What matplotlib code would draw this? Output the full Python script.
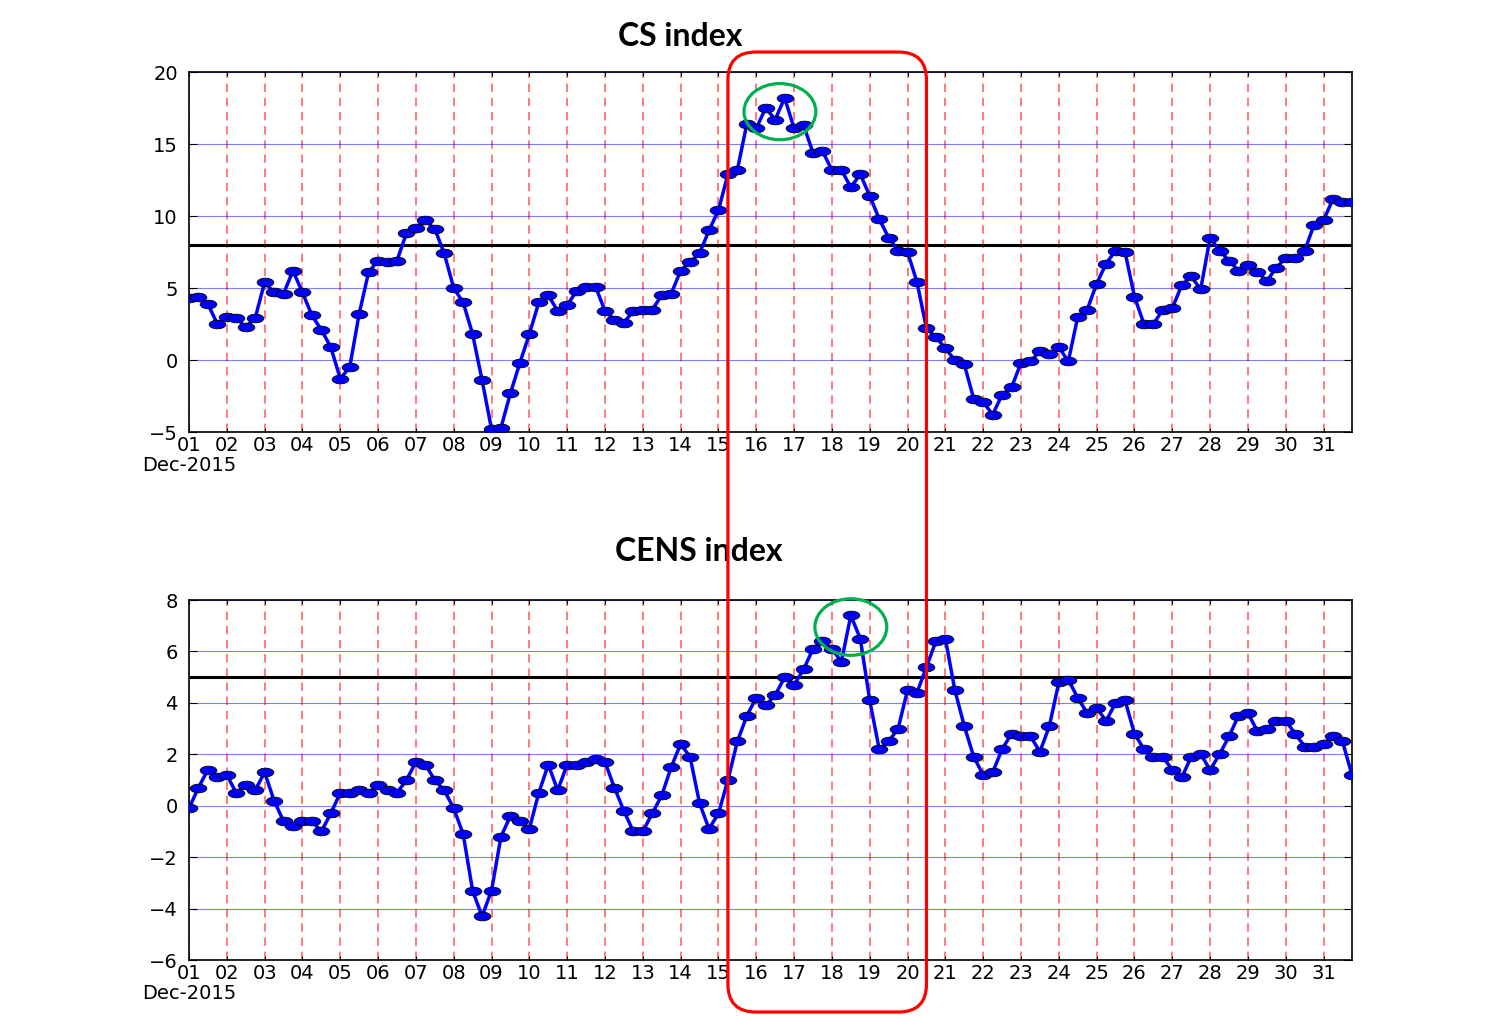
#!/usr/bin/env python3
"""
CS / CENS index time series, Dec 2015 (6-hourly), with highlighted event window
"""

import matplotlib
matplotlib.use('Agg')
import matplotlib.pyplot as plt
import matplotlib.dates as mdates
import pandas as pd
from matplotlib.path import Path
from matplotlib.transforms import Affine2D, IdentityTransform, blended_transform_factory
from matplotlib.patches import Ellipse, FancyBboxPatch

# 6-hourly samples, 1 Dec 00:00 -> 31 Dec 18:00
start_time = '2015-12-01 00:00'
n_points = 124

cs_values = [4.3, 4.4, 3.9, 2.5, 3.0, 2.9, 2.3, 2.9,
             5.4, 4.7, 4.6, 6.2, 4.7, 3.1, 2.1, 0.9,
             -1.3, -0.5, 3.2, 6.1, 6.9, 6.8, 6.9, 8.8,
             9.2, 9.7, 9.1, 7.4, 5.0, 4.0, 1.8, -1.4,
             -4.8, -4.7, -2.3, -0.2, 1.8, 4.0, 4.5, 3.4,
             3.8, 4.8, 5.1, 5.1, 3.4, 2.8, 2.6, 3.4,
             3.5, 3.5, 4.5, 4.6, 6.2, 6.8, 7.4, 9.0,
             10.4, 12.9, 13.2, 16.4, 16.1, 17.5, 16.7, 18.2,
             16.1, 16.3, 14.4, 14.5, 13.2, 13.2, 12.0, 12.9,
             11.4, 9.8, 8.5, 7.6, 7.5, 5.4, 2.2, 1.6,
             0.8, 0.0, -0.3, -2.7, -2.9, -3.8, -2.4, -1.9,
             -0.2, -0.1, 0.6, 0.4, 0.9, -0.1, 3.0, 3.5,
             5.3, 6.7, 7.6, 7.5, 4.4, 2.5, 2.5, 3.5,
             3.6, 5.2, 5.8, 4.9, 8.5, 7.6, 6.9, 6.2,
             6.6, 6.1, 5.5, 6.4, 7.1, 7.1, 7.6, 9.4,
             9.7, 11.2, 11.0, 11.0]

cens_values = [-0.1, 0.7, 1.4, 1.1, 1.2, 0.5, 0.8, 0.6,
               1.3, 0.2, -0.6, -0.8, -0.6, -0.6, -1.0, -0.3,
               0.5, 0.5, 0.6, 0.5, 0.8, 0.6, 0.5, 1.0,
               1.7, 1.6, 1.0, 0.6, -0.1, -1.1, -3.3, -4.3,
               -3.3, -1.2, -0.4, -0.6, -0.9, 0.5, 1.6, 0.6,
               1.6, 1.6, 1.7, 1.8, 1.7, 0.7, -0.2, -1.0,
               -1.0, -0.3, 0.4, 1.5, 2.4, 1.9, 0.1, -0.9,
               -0.3, 1.0, 2.5, 3.5, 4.2, 3.9, 4.3, 5.0,
               4.7, 5.3, 6.1, 6.4, 6.1, 5.6, 7.4, 6.5,
               4.1, 2.2, 2.5, 3.0, 4.5, 4.4, 5.4, 6.4,
               6.5, 4.5, 3.1, 1.9, 1.2, 1.3, 2.2, 2.8,
               2.7, 2.7, 2.1, 3.1, 4.8, 4.9, 4.2, 3.6,
               3.8, 3.3, 4.0, 4.1, 2.8, 2.2, 1.9, 1.9,
               1.4, 1.1, 1.9, 2.0, 1.4, 2.0, 2.7, 3.5,
               3.6, 2.9, 3.0, 3.3, 3.3, 2.8, 2.3, 2.3,
               2.4, 2.7, 2.5, 1.2]

cs_threshold = 8
cens_threshold = 5
cs_yticks = [-5, 0, 5, 10, 15, 20]
cens_yticks = [-6, -4, -2, 0, 2, 4, 6, 8]

day_labels = ['%02d' % d for d in range(1, 32)]
month_label = 'Dec-2015'

# event window and peaks marked on the slide
highlight_start = '2015-12-15 06:00'
highlight_end = '2015-12-20 12:00'
cs_peak = ('2015-12-16 15:00', 17.25)
cens_peak = ('2015-12-18 12:00', 6.95)

times = pd.date_range(start_time, periods=n_points, freq='6h')
x = mdates.date2num(times.to_pydatetime())
tick_days = mdates.date2num(pd.date_range('2015-12-01', periods=31, freq='D').to_pydatetime())

# oval marker (the original plot was stretched horizontally)
oval = Path.unit_circle().transformed(Affine2D().scale(1.0, 0.52))


def draw_index(ax, values, threshold, yticks):
    ax.plot(x, values, color='b', lw=2.5, marker=oval, ms=12,
            mfc='b', mec='k', mew=0.6, zorder=3)
    ax.axhline(threshold, color='k', lw=2.2, zorder=2)
    ax.set_xlim(x[0], x[-1])
    ax.set_ylim(yticks[0], yticks[-1])
    ax.set_yticks(yticks)
    ax.set_xticks(tick_days)
    ax.set_xticklabels(day_labels)
    ax.grid(axis='x', color='r', ls=(0, (5, 3.5)), lw=1.2, alpha=0.6)
    ax.grid(axis='y', color='b', lw=0.8, alpha=0.5)
    ax.tick_params(axis='both', direction='in', labelsize=14, length=6,
                   top=True, right=True)
    ax.tick_params(axis='y', pad=8)
    ax.tick_params(axis='x', pad=3, length=3)
    for side in ['top', 'bottom', 'left', 'right']:
        ax.spines[side].set_linewidth(1.2)
    # month/year under the first day label
    trans = blended_transform_factory(ax.transData, ax.transAxes)
    ax.text(tick_days[0], -0.092, month_label, transform=trans,
            ha='center', va='center', fontsize=14)


fig = plt.figure(figsize=(15.02, 10.16), dpi=100)
ax1 = fig.add_axes([0.1258, 0.5748, 0.7743, 0.3543])
ax2 = fig.add_axes([0.1258, 0.0551, 0.7743, 0.3543])

draw_index(ax1, cs_values, cs_threshold, cs_yticks)
draw_index(ax2, cens_values, cens_threshold, cens_yticks)

fig.text(0.4527, 0.9636, 'CS index', ha='center', va='center',
         fontsize=23, fontweight='bold', family='Lato')
fig.text(0.4095, 0.4567, 'CENS index', ha='left', va='center',
         fontsize=23, fontweight='bold', family='Lato')

# green circles around the peaks
for ax, (t, v), h in [(ax1, cs_peak, 3.9), (ax2, cens_peak, 2.2)]:
    ax.add_patch(Ellipse((mdates.datestr2num(t), v), 1.9, h, fill=False,
                         ec='#00b050', lw=2.3, clip_on=False, zorder=5))

# red rounded box spanning both panels
x0 = ax1.transData.transform((mdates.datestr2num(highlight_start), 0))[0]
x1 = ax1.transData.transform((mdates.datestr2num(highlight_end), 0))[0]
y_top = ax1.transAxes.transform((0, 1))[1] + 20
y_bot = ax2.transAxes.transform((0, 0))[1] - 52
box = FancyBboxPatch((x0, y_bot), x1 - x0, y_top - y_bot,
                     boxstyle='round,pad=0,rounding_size=28',
                     fill=False, ec='#ff0000', lw=2.3,
                     transform=IdentityTransform(), zorder=6)
fig.patches.append(box)

fig.savefig('out.png', dpi=100)
